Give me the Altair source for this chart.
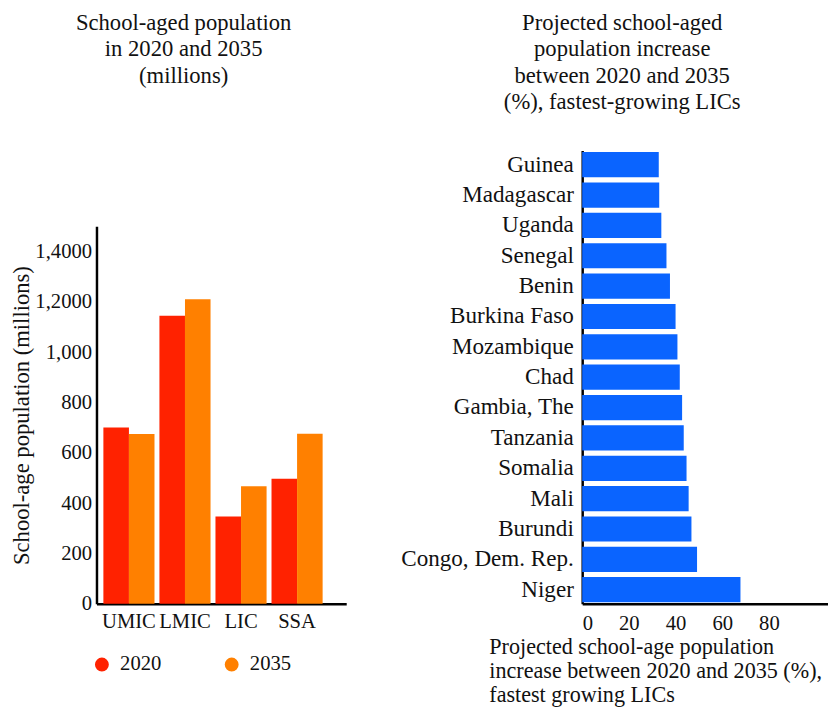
import altair as alt
import pandas as pd

# ---- data ----
groups = ["UMIC", "LMIC", "LIC", "SSA"]
years = ["2020", "2035"]
pop_2020 = [701, 1145, 347, 497]
pop_2035 = [675, 1210, 467, 676]

countries = ["Guinea", "Madagascar", "Uganda", "Senegal", "Benin", "Burkina Faso",
             "Mozambique", "Chad", "Gambia, The", "Tanzania", "Somalia", "Mali",
             "Burundi", "Congo, Dem. Rep.", "Niger"]
increase = [32.8, 33.0, 33.9, 36.1, 37.6, 40.0, 40.8, 41.8, 42.8, 43.5, 44.7, 45.6,
            46.8, 49.2, 67.8]

y_ticks = [0, 200, 400, 600, 800, 1000, 1200, 1400]
x_ticks = [0, 20, 40, 60, 80]

colors = ["#FF2200", "#FF8000"]
blue = "#0A64FF"
SERIF = "Liberation Serif"

left_df = pd.DataFrame({
    "group": groups * 2,
    "year": [years[0]] * 4 + [years[1]] * 4,
    "value": pop_2020 + pop_2035,
})
right_df = pd.DataFrame({"country": countries, "increase": increase})

H = 461
LEFT_TOP = 77

left = alt.Chart(left_df).mark_bar().encode(
    x=alt.X("group:N", sort=groups,
            scale=alt.Scale(paddingInner=0.088, paddingOuter=0.272, align=0.226),
            axis=alt.Axis(title=None, labelAngle=0, ticks=False, labelPadding=7,
                          labelFontSize=21, labelFont=SERIF, labelColor="#111",
                          domainColor="#000", domainWidth=2.5)),
    xOffset=alt.XOffset("year:N", sort=years,
                        scale=alt.Scale(paddingInner=0, paddingOuter=0)),
    y=alt.Y("value:Q", scale=alt.Scale(domain=[0, 1500], nice=False,
                                       range=[H, LEFT_TOP]),
            axis=alt.Axis(values=y_ticks, grid=False, ticks=False, labelPadding=5,
                          labelExpr="datum.value == 1400 ? '1,4000' : datum.value == 1200 ? '1,2000' : format(datum.value, ',')",
                          labelFontSize=21, labelFont=SERIF, labelColor="#111",
                          title="School-age population (millions)",
                          titleFontSize=23, titleFont=SERIF, titleFontWeight="normal",
                          titleColor="#111", titlePadding=1,
                          domainColor="#000", domainWidth=2.5)),
    color=alt.Color("year:N", sort=years,
                    scale=alt.Scale(domain=years, range=colors),
                    legend=alt.Legend(title=None, orient="none", direction="horizontal",
                                      legendX=-5, legendY=512, symbolType="circle",
                                      symbolSize=200, symbolStrokeWidth=0,
                                      labelFontSize=21, labelFont=SERIF, labelColor="#111",
                                      columnPadding=61, labelOffset=8)),
).properties(
    width=254, height=H,
    title=alt.TitleParams(text=["School-aged population", "in 2020 and 2035", "(millions)"],
                          anchor="middle", frame="bounds", fontSize=23, font=SERIF,
                          fontWeight="normal", color="#111", lineHeight=27, offset=64,
                          dx=5),
)

right = alt.Chart(right_df).mark_bar(color=blue).encode(
    y=alt.Y("country:N", sort=countries,
            scale=alt.Scale(paddingInner=0.17, paddingOuter=0.05),
            axis=alt.Axis(title=None, ticks=False, labelPadding=9,
                          labelFontSize=23.5, labelFont=SERIF, labelColor="#111",
                          domainColor="#000", domainWidth=2.5)),
    x=alt.X("increase:Q", scale=alt.Scale(domain=[0, 105.3], nice=False),
            axis=alt.Axis(values=x_ticks, grid=False, ticks=False, labelPadding=9,
                          labelFontSize=21, labelFont=SERIF, labelColor="#111",
                          title=["Projected school-age population",
                                 "increase between 2020 and 2035 (%),",
                                 "fastest growing LICs"],
                          titleFontSize=22.5, titleFont=SERIF, titleFontWeight="normal",
                          titleColor="#111", titleAlign="left", titleBaseline="top",
                          titleX=-95, titleY=33, titleLineHeight=24,
                          domainColor="#000", domainWidth=2.5)),
).properties(
    width=250, height=H,
    title=alt.TitleParams(text=["Projected school-aged", "population increase",
                                "between 2020 and 2035", "(%), fastest-growing LICs"],
                          anchor="middle", frame="bounds", fontSize=23, font=SERIF,
                          fontWeight="normal", color="#111", lineHeight=27, offset=37,
                          dx=8),
)

chart = alt.hconcat(left, right, spacing=55).properties(
    padding={"left": 3, "top": -2, "right": 0, "bottom": 0}, background="white"
).configure_view(stroke=None)

chart.save("out.html", embed_options={"renderer": "svg", "actions": False})
